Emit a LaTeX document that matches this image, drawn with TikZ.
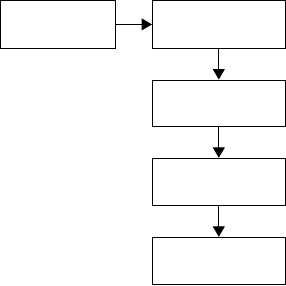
\documentclass[tikz,border=0pt]{standalone}
\usetikzlibrary{arrows.meta}
\begin{document}
\begin{tikzpicture}[x=1pt,y=-1pt,
  box/.style={draw=black,line width=1pt,fill=white,minimum width=132.5pt,minimum height=47pt,inner sep=0pt},
  conn/.style={draw=black,line width=1pt,-{Triangle[length=10.5pt,width=12pt]}}]
\useasboundingbox[fill=white] (0,0) rectangle (286,285);
\node[box,minimum width=114.5pt,minimum height=47.5pt] (a) at (57.75,24.4) {};
\node[box,minimum height=47.5pt] (b) at (218.8,24.4) {};
\node[box,minimum height=46.7pt] (c) at (218.8,103.35) {};
\node[box,minimum height=47.4pt] (d) at (218.8,182) {};
\node[box,minimum height=47pt] (e) at (218.8,260.8) {};
\draw[conn] (a.east) -- (b.west);
\draw[conn] (b.south) -- (c.north);
\draw[conn] (c.south) -- (d.north);
\draw[conn] (d.south) -- (e.north);
\end{tikzpicture}
\end{document}
